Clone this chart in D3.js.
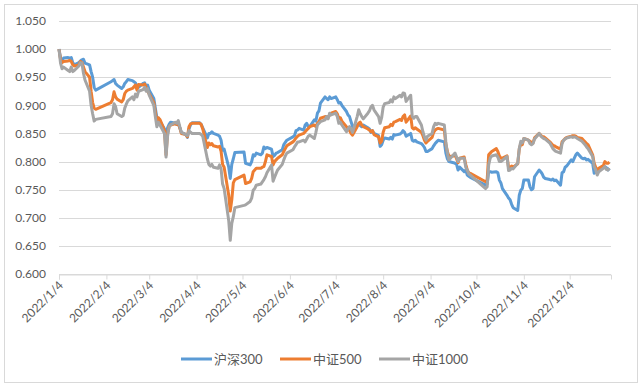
<!DOCTYPE html>
<html>
<head>
<meta charset="utf-8">
<script src="https://d3js.org/d3.v7.min.js"></script>
<style>
  body { margin: 0; background: #fff; }
  text { font-family: Lato, "Noto Sans CJK SC", sans-serif; fill: #595959; }
</style>
</head>
<body>
<svg id="chart" width="642" height="387"></svg>
<script>
// ---------------------------------------------------------------------------//
// DATA ----------------------------------------------------------------------//
// ---------------------------------------------------------------------------//

var seriesNames = ["沪深300", "中证500", "中证1000"]
var seriesColors = ["#5B9BD5", "#ED7D31", "#A5A5A5"]

var yTicks = [0.60, 0.65, 0.70, 0.75, 0.80, 0.85, 0.90, 0.95, 1.00, 1.05]
var xTickLabels = ["2022/1/4", "2022/2/4", "2022/3/4", "2022/4/4", "2022/5/4", "2022/6/4",
    "2022/7/4", "2022/8/4", "2022/9/4", "2022/10/4", "2022/11/4", "2022/12/4"]

var dates = [
    "01-04","01-05","01-06","01-07","01-10","01-11","01-12","01-13","01-14","01-17","01-18","01-19","01-20","01-21","01-24","01-25","01-26","01-27","01-28",
    "02-07","02-08","02-09","02-10","02-11","02-14","02-15","02-16","02-17","02-18","02-21","02-22","02-23","02-24","02-25","02-28",
    "03-01","03-02","03-03","03-04","03-07","03-08","03-09","03-10","03-11","03-14","03-15","03-16","03-17","03-18","03-21","03-22","03-23","03-24","03-25","03-28","03-29","03-30","03-31",
    "04-01","04-06","04-07","04-08","04-11","04-12","04-13","04-14","04-15","04-18","04-19","04-20","04-21","04-22","04-25","04-26","04-27","04-28","04-29",
    "05-05","05-06","05-09","05-10","05-11","05-12","05-13","05-16","05-17","05-18","05-19","05-20","05-23","05-24","05-25","05-26","05-27","05-30","05-31",
    "06-01","06-02","06-06","06-07","06-08","06-09","06-10","06-13","06-14","06-15","06-16","06-17","06-20","06-21","06-22","06-23","06-24","06-27","06-28","06-29","06-30",
    "07-01","07-04","07-05","07-06","07-07","07-08","07-11","07-12","07-13","07-14","07-15","07-18","07-19","07-20","07-21","07-22","07-25","07-26","07-27","07-28","07-29",
    "08-01","08-02","08-03","08-04","08-05","08-08","08-09","08-10","08-11","08-12","08-15","08-16","08-17","08-18","08-19","08-22","08-23","08-24","08-25","08-26","08-29","08-30","08-31",
    "09-01","09-02","09-05","09-06","09-07","09-08","09-09","09-13","09-14","09-15","09-16","09-19","09-20","09-21","09-22","09-23","09-26","09-27","09-28","09-29","09-30",
    "10-10","10-11","10-12","10-13","10-14","10-17","10-18","10-19","10-20","10-21","10-24","10-25","10-26","10-27","10-28","10-31",
    "11-01","11-02","11-03","11-04","11-07","11-08","11-09","11-10","11-11","11-14","11-15","11-16","11-17","11-18","11-21","11-22","11-23","11-24","11-25","11-28","11-29","11-30",
    "12-01","12-02","12-05","12-06","12-07","12-08","12-09","12-12","12-13","12-14","12-15","12-16","12-19","12-20","12-21","12-22","12-23","12-26","12-27","12-28","12-29","12-30"
]

var hs300 = [
    1.000,0.984,0.980,0.984,0.985,0.984,0.985,0.976,0.972,0.976,0.979,0.981,0.982,0.975,0.972,0.960,0.950,0.932,0.927,
    0.942,0.944,0.946,0.939,0.936,0.930,0.933,0.939,0.942,0.946,0.944,0.942,0.940,0.934,0.932,0.939,
    0.940,0.934,0.936,0.927,0.912,0.895,0.878,0.877,0.872,0.858,0.830,0.860,0.866,0.870,0.868,0.866,0.867,0.860,0.852,0.848,0.843,0.858,0.865,
    0.869,0.869,0.866,0.860,0.842,0.850,0.850,0.853,0.850,0.847,0.845,0.838,0.820,0.822,0.790,0.770,0.795,0.805,0.816,
    0.817,0.797,0.794,0.800,0.812,0.810,0.815,0.812,0.815,0.826,0.823,0.825,0.822,0.809,0.811,0.815,0.816,0.821,0.830,
    0.834,0.838,0.844,0.846,0.855,0.856,0.859,0.856,0.865,0.868,0.862,0.862,0.874,0.872,0.886,0.890,0.904,0.915,0.912,0.910,0.915,
    0.912,0.915,0.910,0.904,0.905,0.900,0.889,0.883,0.880,0.871,0.862,0.865,0.866,0.864,0.862,0.865,0.860,0.858,0.852,0.855,0.850,
    0.846,0.827,0.830,0.838,0.842,0.840,0.843,0.840,0.848,0.847,0.849,0.851,0.855,0.852,0.845,0.850,0.838,0.836,0.838,0.835,0.832,0.829,0.825,
    0.818,0.818,0.823,0.828,0.832,0.835,0.838,0.835,0.815,0.805,0.800,0.798,0.797,0.795,0.785,0.790,0.782,0.785,0.776,0.774,0.772,
    0.758,0.760,0.782,0.782,0.781,0.782,0.780,0.767,0.762,0.752,0.740,0.735,0.732,0.724,0.718,0.713,
    0.740,0.749,0.752,0.767,0.767,0.755,0.750,0.752,0.773,0.785,0.782,0.778,0.772,0.770,0.768,0.767,0.769,0.766,0.767,0.758,0.780,0.782,
    0.790,0.792,0.803,0.800,0.806,0.812,0.815,0.806,0.805,0.806,0.803,0.804,0.797,0.779,0.782,0.780,0.785,0.790,0.791,0.789,0.785,0.788
]

var zz500 = [
    1.000,0.982,0.976,0.978,0.979,0.980,0.978,0.972,0.970,0.972,0.978,0.976,0.968,0.960,0.950,0.925,0.905,0.895,0.893,
    0.905,0.910,0.924,0.915,0.911,0.906,0.910,0.921,0.925,0.927,0.930,0.933,0.936,0.927,0.937,0.936,
    0.938,0.932,0.925,0.920,0.905,0.888,0.872,0.878,0.875,0.855,0.812,0.850,0.862,0.865,0.867,0.866,0.868,0.860,0.850,0.848,0.844,0.862,0.867,
    0.868,0.868,0.866,0.858,0.825,0.833,0.830,0.832,0.828,0.826,0.827,0.818,0.795,0.790,0.740,0.712,0.732,0.762,0.768,
    0.776,0.761,0.764,0.770,0.782,0.785,0.788,0.788,0.790,0.791,0.800,0.812,0.809,0.794,0.800,0.803,0.806,0.812,0.818,
    0.823,0.828,0.835,0.838,0.842,0.845,0.847,0.850,0.853,0.856,0.859,0.862,0.865,0.862,0.868,0.871,0.877,0.880,0.880,0.878,0.883,
    0.886,0.889,0.885,0.877,0.878,0.872,0.862,0.859,0.855,0.850,0.847,0.862,0.868,0.870,0.865,0.862,0.858,0.856,0.853,0.855,0.848,
    0.844,0.833,0.836,0.852,0.860,0.862,0.866,0.864,0.870,0.871,0.875,0.873,0.880,0.883,0.870,0.881,0.860,0.858,0.860,0.858,0.852,0.846,0.838,
    0.833,0.836,0.843,0.852,0.856,0.858,0.859,0.856,0.830,0.818,0.809,0.810,0.812,0.805,0.798,0.806,0.808,0.795,0.785,0.780,0.779,
    0.764,0.767,0.812,0.815,0.818,0.823,0.818,0.810,0.806,0.806,0.810,0.790,0.789,0.792,0.790,0.796,
    0.822,0.832,0.830,0.841,0.838,0.836,0.834,0.833,0.842,0.850,0.847,0.844,0.844,0.842,0.835,0.832,0.829,0.828,0.826,0.822,0.835,0.838,
    0.841,0.843,0.845,0.846,0.846,0.845,0.843,0.841,0.838,0.835,0.832,0.830,0.812,0.797,0.790,0.779,0.788,0.793,0.800,0.797,0.797,0.799
]

var zz1000 = [
    1.000,0.975,0.965,0.968,0.962,0.960,0.968,0.960,0.962,0.970,0.976,0.975,0.957,0.945,0.925,0.900,0.885,0.872,0.875,
    0.880,0.885,0.903,0.898,0.885,0.880,0.882,0.895,0.902,0.908,0.915,0.910,0.920,0.915,0.925,0.928,
    0.932,0.925,0.930,0.918,0.900,0.880,0.862,0.870,0.865,0.850,0.808,0.845,0.862,0.865,0.870,0.868,0.873,0.862,0.852,0.848,0.846,0.855,0.852,
    0.850,0.850,0.848,0.845,0.805,0.795,0.792,0.795,0.790,0.788,0.794,0.787,0.760,0.752,0.695,0.660,0.690,0.702,0.718,
    0.722,0.723,0.729,0.735,0.749,0.752,0.758,0.760,0.764,0.768,0.773,0.780,0.794,0.765,0.772,0.779,0.785,0.795,0.803,
    0.810,0.815,0.821,0.826,0.830,0.835,0.835,0.838,0.835,0.840,0.845,0.847,0.841,0.852,0.865,0.868,0.871,0.874,0.880,0.876,0.886,
    0.883,0.886,0.880,0.868,0.870,0.865,0.853,0.858,0.862,0.858,0.852,0.880,0.892,0.885,0.880,0.876,0.886,0.890,0.897,0.900,0.892,
    0.880,0.868,0.878,0.897,0.903,0.905,0.910,0.906,0.915,0.912,0.918,0.915,0.922,0.921,0.907,0.918,0.880,0.877,0.880,0.880,0.865,0.853,0.844,
    0.838,0.845,0.850,0.862,0.868,0.866,0.868,0.865,0.835,0.815,0.803,0.812,0.815,0.808,0.800,0.806,0.806,0.790,0.785,0.778,0.776,
    0.752,0.755,0.794,0.806,0.810,0.812,0.808,0.800,0.800,0.802,0.809,0.784,0.785,0.788,0.787,0.797,
    0.823,0.836,0.833,0.841,0.838,0.832,0.830,0.832,0.840,0.850,0.846,0.843,0.841,0.840,0.833,0.828,0.823,0.820,0.818,0.815,0.832,0.838,
    0.840,0.842,0.844,0.843,0.844,0.843,0.841,0.836,0.833,0.830,0.826,0.823,0.809,0.791,0.785,0.776,0.782,0.788,0.791,0.786,0.785,0.788
]

// ---------------------------------------------------------------------------//
// SETUP ---------------------------------------------------------------------//
// ---------------------------------------------------------------------------//

var svg = d3.select("#chart")
var parseDate = d3.timeParse("%Y-%m-%d")

var plot = { left: 59, right: 611, top: 21, bottom: 274 }

// outer chart border
svg.append("rect")
    .attr("x", 4.5)
    .attr("y", 4.5)
    .attr("width", 633)
    .attr("height", 378)
    .attr("fill", "#fff")
    .attr("stroke", "#d9d9d9")

var x = d3.scaleTime()
    .domain([parseDate("2022-01-04"), parseDate("2022-12-31")])
    .range([plot.left, plot.right])

var y = d3.scaleLinear()
    .domain([0.6, 1.05])
    .range([plot.bottom, plot.top])

var tickDates = xTickLabels.map(function (s) { return d3.timeParse("%Y/%m/%d")(s) })

// gridlines
svg.append("g")
    .selectAll("line")
    .data(yTicks)
    .enter()
    .append("line")
    .attr("x1", plot.left)
    .attr("x2", plot.right)
    .attr("y1", function (d) { return Math.round(y(d)) + 0.5 })
    .attr("y2", function (d) { return Math.round(y(d)) + 0.5 })
    .attr("stroke", "#d9d9d9")
    .attr("stroke-width", 1)

// y labels
svg.append("g")
    .selectAll("text")
    .data(yTicks)
    .enter()
    .append("text")
    .attr("x", 46)
    .attr("y", function (d) { return y(d) })
    .attr("dy", "0.35em")
    .attr("text-anchor", "end")
    .style("font-size", "12px")
    .text(function (d) { return d3.format(".3f")(d) })

// x axis
var xAxis = d3.axisBottom(x)
    .tickValues(tickDates)
    .tickSize(5)
    .tickFormat("")

var xg = svg.append("g")
    .attr("transform", "translate(0," + (Math.round(plot.bottom) + 0.5) + ")")
    .call(xAxis)
xg.select(".domain").attr("stroke", "#d9d9d9")
xg.selectAll(".tick line").attr("stroke", "#d9d9d9")

svg.append("g")
    .selectAll("text")
    .data(tickDates)
    .enter()
    .append("text")
    .attr("transform", function (d, i) { return "translate(" + (x(d) + 5) + "," + 286 + ") rotate(-45)" })
    .attr("text-anchor", "end")
    .style("font-size", "12px")
    .text(function (d, i) { return xTickLabels[i] })

// ---------------------------------------------------------------------------//
// LINES ---------------------------------------------------------------------//
// ---------------------------------------------------------------------------//

var allSeries = [hs300, zz500, zz1000]

var line = d3.line()
    .x(function (d) { return x(d.date) })
    .y(function (d) { return y(d.value) })

allSeries.forEach(function (values, k) {
    var pts = dates.map(function (dd, i) {
        return { date: parseDate("2022-" + dd), value: values[i] }
    })
    svg.append("path")
        .datum(pts)
        .attr("fill", "none")
        .attr("stroke", seriesColors[k])
        .attr("stroke-width", 3)
        .attr("stroke-linejoin", "round")
        .attr("d", line)
})

// ---------------------------------------------------------------------------//
// LEGEND --------------------------------------------------------------------//
// ---------------------------------------------------------------------------//

var legendX = [181, 280, 379]
var legend = svg.append("g")

legend.selectAll("line")
    .data(seriesNames)
    .enter()
    .append("line")
    .attr("x1", function (d, i) { return legendX[i] })
    .attr("x2", function (d, i) { return legendX[i] + 31 })
    .attr("y1", 359)
    .attr("y2", 359)
    .attr("stroke", function (d, i) { return seriesColors[i] })
    .attr("stroke-width", 3)

legend.selectAll("text")
    .data(seriesNames)
    .enter()
    .append("text")
    .attr("x", function (d, i) { return legendX[i] + 33 })
    .attr("y", 359)
    .attr("dy", "0.36em")
    .style("font-size", "13px")
    .text(function (d) { return d })
</script>
</body>
</html>
